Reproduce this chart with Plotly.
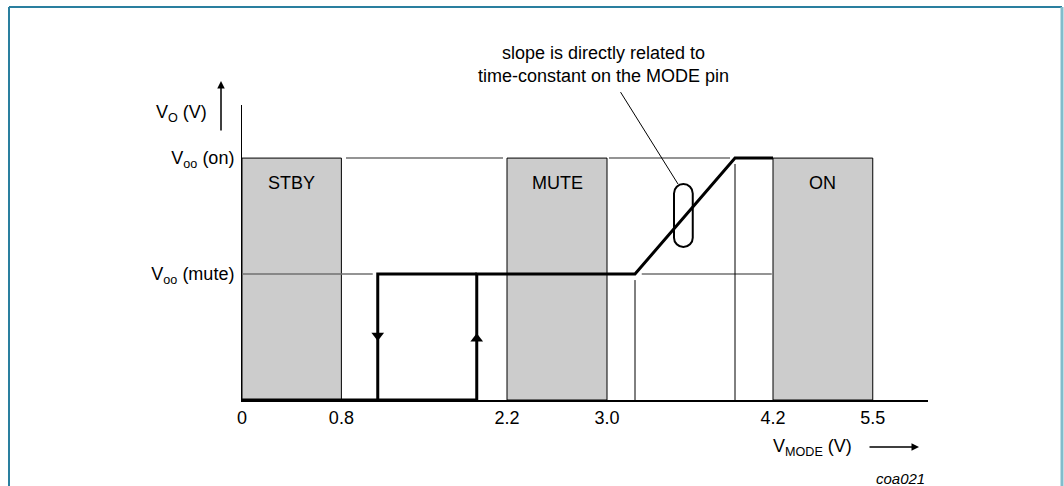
import plotly.graph_objects as go

# ---------------- data (schematic units) ----------------
tick_labels = ["0", "0.8", "2.2", "3.0", "4.2", "5.5"]
tick_pos = [0.0, 0.795, 2.12, 2.92, 4.248, 5.046]

mode_names = ["STBY", "MUTE", "ON"]
mode_start = [tick_pos[0], tick_pos[2], tick_pos[4]]
mode_end = [tick_pos[1], tick_pos[3], tick_pos[5]]

level_names = ["V<sub>oo</sub> (mute)", "V<sub>oo</sub> (on)"]
level_values = [1.0, 1.92]

# rising (switch-on) path of the output voltage
rise_x = [0.0, 1.878, 1.878, 3.144, 3.944, 4.248]
rise_y = [0.0, 0.0, 1.0, 1.0, 1.92, 1.92]
# falling (switch-off) path
fall_x = [1.878, 1.086, 1.086]
fall_y = [1.0, 1.0, 0.0]

# direction arrows on the hysteresis branches
arrow_x = [1.086, 1.878]
arrow_y = [0.512, 0.487]
arrow_sym = ["triangle-down", "triangle-up"]

# gray reference lines at the output levels
ref_on_x = [0.832, 2.088, None, 2.936, 3.904]
ref_mute_x = [0.0, 1.046, None, 3.198, 4.238]

# thin drop lines from the ramp corners
drop_x = [3.144, 3.944]
drop_top = [0.952, 1.873]

# ---------------- layout geometry ----------------
L, R, T, B = 242, 136, 105, 86
W, H = 1064, 486
PW, PH = W - L - R, H - T - B


def px(x):
    return (x - L) / PW


def py(y):
    return (H - B - y) / PH


fig = go.Figure()

# mode boxes
fig.add_trace(go.Bar(
    x=[(s + e) / 2 for s, e in zip(mode_start, mode_end)],
    width=[e - s for s, e in zip(mode_start, mode_end)],
    y=[level_values[1]] * 3,
    marker=dict(color="#cccccc", line=dict(color="black", width=1)),
    hoverinfo="skip",
))

# reference level lines
fig.add_trace(go.Scatter(x=ref_on_x, y=[level_values[1]] * 5, mode="lines",
                         line=dict(color="#707070", width=1.5), hoverinfo="skip"))
fig.add_trace(go.Scatter(x=ref_mute_x, y=[level_values[0]] * 5, mode="lines",
                         line=dict(color="#707070", width=1.5), hoverinfo="skip"))

# drop lines
dx, dy = [], []
for x, t in zip(drop_x, drop_top):
    dx += [x, x, None]
    dy += [0, t, None]
fig.add_trace(go.Scatter(x=dx, y=dy, mode="lines",
                         line=dict(color="black", width=1), hoverinfo="skip"))

# hysteresis curve
fig.add_trace(go.Scatter(x=rise_x, y=rise_y, mode="lines", cliponaxis=False,
                         line=dict(color="black", width=3), hoverinfo="skip"))
fig.add_trace(go.Scatter(x=fall_x, y=fall_y, mode="lines", cliponaxis=False,
                         line=dict(color="black", width=3), hoverinfo="skip"))
fig.add_trace(go.Scatter(x=arrow_x, y=arrow_y, mode="markers",
                         marker=dict(symbol=arrow_sym, size=11, color="black"),
                         hoverinfo="skip"))

# pill (rounded rectangle) around the ramp
cx, x0, x1 = 3.531, 3.456, 3.606
yt, yb = 1.714, 1.214
rx, ry = (x1 - x0) / 2, (x1 - x0) / 2 * 125 / 126
k = 0.5523
path = (
    f"M {x0},{yb + ry} L {x0},{yt - ry} "
    f"C {x0},{yt - ry + k * ry} {cx - k * rx},{yt} {cx},{yt} "
    f"C {cx + k * rx},{yt} {x1},{yt - ry + k * ry} {x1},{yt - ry} "
    f"L {x1},{yb + ry} "
    f"C {x1},{yb + ry - k * ry} {cx + k * rx},{yb} {cx},{yb} "
    f"C {cx - k * rx},{yb} {x0},{yb + ry - k * ry} {x0},{yb + ry} Z"
)
fig.add_shape(type="path", path=path, xref="x", yref="y",
              line=dict(color="black", width=2), fillcolor="rgba(0,0,0,0)")

# frame border
fig.add_shape(type="line", xref="paper", yref="paper", x0=px(9), x1=px(1062), y0=py(7), y1=py(7),
              line=dict(color="#2a7f9f", width=2))
fig.add_shape(type="line", xref="paper", yref="paper", x0=px(9), x1=px(9), y0=py(7), y1=py(490),
              line=dict(color="#2a7f9f", width=2))
fig.add_shape(type="line", xref="paper", yref="paper", x0=px(1062), x1=px(1062), y0=py(7), y1=py(490),
              line=dict(color="#82bccb", width=3))

FONT = dict(family="Liberation Sans, Arial, sans-serif", size=18, color="black")
ann = []
for n, s, e in zip(mode_names, mode_start, mode_end):
    ann.append(dict(x=(s + e) / 2, y=1.72, xref="x", yref="y", text=n, showarrow=False,
                    xanchor="center", yanchor="middle", font=FONT))

# callout
ann.append(dict(x=3.488, y=1.714, xref="x", yref="y",
                text="slope is directly related to<br>time-constant on the MODE pin",
                showarrow=True, arrowhead=0, arrowwidth=1, arrowcolor="black",
                ax=-75, ay=-120, startstandoff=6, font=FONT))
# y-axis title and arrow
ann.append(dict(x=px(209), y=py(113), xref="paper", yref="paper",
                xanchor="right", yanchor="middle",
                text="V<sub>O</sub> (V)", showarrow=False, font=FONT))
ann.append(dict(x=px(221), y=py(81), xref="paper", yref="paper", text="",
                showarrow=True, arrowhead=2, arrowsize=1, arrowwidth=1.5, arrowcolor="black",
                ax=0, ay=51))
# x-axis title and arrow
ann.append(dict(x=px(812), y=py(447), xref="paper", yref="paper",
                xanchor="center", yanchor="middle",
                text="V<sub>MODE</sub> (V)", showarrow=False, font=FONT))
ann.append(dict(x=px(919), y=py(447), xref="paper", yref="paper", text="",
                showarrow=True, arrowhead=2, arrowsize=1, arrowwidth=1.5, arrowcolor="black",
                ax=-51, ay=0))
ann.append(dict(x=px(927), y=py(478), xref="paper", yref="paper",
                xanchor="right", yanchor="middle",
                text="<i>coa021</i>", showarrow=False,
                font=dict(family="Liberation Sans, Arial, sans-serif", size=15, color="black")))

fig.update_layout(
    width=W, height=H,
    margin=dict(l=L, r=R, t=T, b=B, pad=0),
    paper_bgcolor="white", plot_bgcolor="white",
    showlegend=False,
    font=FONT,
    annotations=ann,
    xaxis=dict(range=[0, PW / 125], showgrid=False, zeroline=False,
               showline=True, linecolor="black", linewidth=2,
               tickmode="array", tickvals=tick_pos, ticktext=tick_labels,
               ticks="", tickfont=FONT),
    yaxis=dict(range=[0, PH / 126], showgrid=False, zeroline=False,
               showline=True, linecolor="black", linewidth=1,
               tickmode="array", tickvals=level_values, ticktext=level_names,
               ticks="", tickfont=FONT, ticklabelstandoff=3),
)

fig.write_html("out.html",
               config={"displayModeBar": False},
               post_script="document.body.style.margin='0';document.body.style.overflow='hidden';")
